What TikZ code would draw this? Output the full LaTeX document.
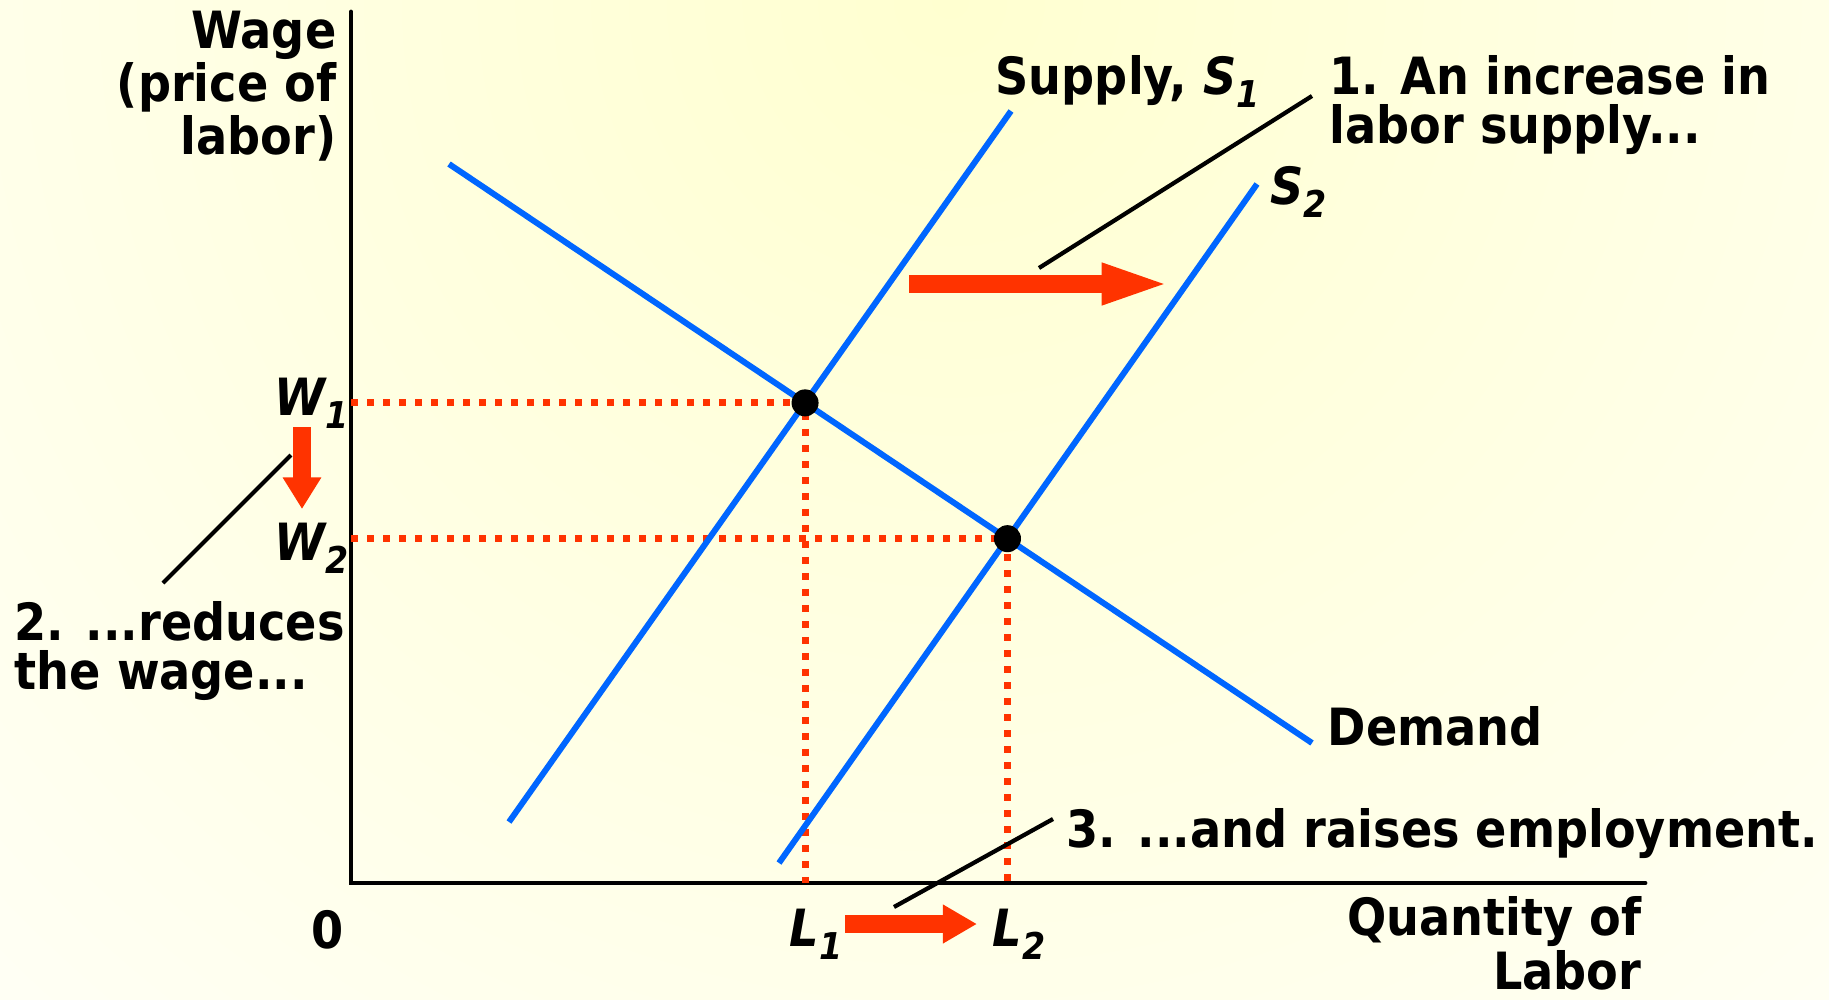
\documentclass[tikz,border=0pt]{standalone}
\usepackage{fontspec}
\newfontfamily\lblfont{DejaVu Sans Condensed Bold}
\newfontfamily\lblitfont{DejaVu Sans Condensed Bold Oblique}
\usetikzlibrary{arrows.meta}
\definecolor{curveblue}{RGB}{0,102,255}
\definecolor{shiftred}{RGB}{255,51,0}
\definecolor{bgyellow}{RGB}{255,255,208}
\definecolor{bgwhite}{RGB}{255,255,245}
\newcommand\subidx[1]{\raisebox{-3.7pt}{\fontsize{10.5}{10}\selectfont #1}}

\begin{document}
\begin{tikzpicture}[x=0.01cm,y=-0.01cm,
  lbl/.style={font=\lblfont\fontsize{14.6}{14}\selectfont, inner sep=0pt},
  sym/.style={font=\lblitfont\fontsize{14.6}{14}\selectfont, inner sep=0pt},
  curve/.style={curveblue, line width=1.7pt},
  guide/.style={shiftred, line width=2pt, dash pattern=on 2pt off 2.55pt},
  callout/.style={black, line width=1.2pt},
  shiftarrow/.style={shiftred, line width=5.1pt, -{Triangle[width=10.4pt,length=#1]}},
  eqdot/.style={circle, fill=black, inner sep=0pt, minimum size=0.27cm}]

% background
\begin{scope}
\clip (0,0) rectangle (1829,1000);
\shade[inner color=bgyellow, outer color=bgwhite] (950,0) circle (1400);
\end{scope}
\useasboundingbox (0,0) rectangle (1829,1000);

% axes
\coordinate (O) at (351,883);
\coordinate (ytop) at (351,12);
\coordinate (xend) at (1645,883);
\draw[line width=1.4pt, line cap=round] (ytop) -- (O) -- (xend);

% demand and the two supply curves
\coordinate (D1) at (449,164);
\coordinate (D2) at (1312,743);
\coordinate (S1a) at (509,822);
\coordinate (S1b) at (1011,111);
\coordinate (S2a) at (779,863);
\coordinate (S2b) at (1257,184);
\coordinate (E1) at (intersection of D1--D2 and S1a--S1b);
\coordinate (E2) at (intersection of D1--D2 and S2a--S2b);

\draw[guide] (O |- E1) -- (E1) -- (E1 |- O);
\draw[guide] (O |- E2) -- (E2) -- (E2 |- O);

\draw[curve] (D1) -- (D2);
\draw[curve] (S1a) -- (S1b);
\draw[curve] (S2a) -- (S2b);

\node[eqdot] (P1) at (E1) {};
\node[eqdot] (P2) at (E2) {};

% labels
\node[lbl, anchor=north east, align=right] (wage) at (337,10) {Wage\\(price of\\labor)};
\node[lbl, anchor=north west] (s1lbl) at (995,55) {Supply, {\lblitfont S\subidx{1}}};
\node[lbl, anchor=north west, align=left] (inc) at (1329,55) {1. An increase in\\labor supply...};
\node[sym, anchor=north west] (s2lbl) at (1270,166) {S\subidx{2}};
\node[lbl, anchor=base west] (dem) at (1327,745) {Demand};
\node[sym, anchor=north east] (w1) at (349,377) {W\subidx{1}};
\node[sym, anchor=north east] (w2) at (349,522) {W\subidx{2}};
\node[lbl, anchor=north west, align=left] (red) at (14,601) {2. ...reduces\\the wage...};
\node[lbl] (zero) at (328,930) {0};
\node[sym, anchor=north west] (l1) at (789,908) {L\subidx{1}};
\node[sym, anchor=north west] (l2) at (992,908) {L\subidx{2}};
\node[lbl, anchor=base west] (emp) at (1066,847) {3. ...and raises employment.};
\node[lbl, anchor=north east, align=right, font=\lblfont\fontsize{14.6}{12.6}\selectfont] (qty) at (1642,896) {Quantity of\\Labor};

% callout lines
\coordinate (c1a) at (1312,96);
\coordinate (c1b) at (1039,268);
\coordinate (c2a) at (291,455);
\coordinate (c2b) at (163,583);
\coordinate (c3a) at (1053,819);
\coordinate (c3b) at (894,907);
\draw[callout] (c1a) -- (c1b);
\draw[callout] (c2a) -- (c2b);
\draw[callout] (c3a) -- (c3b);

% shift arrows
\coordinate (sh1a) at (909,284);
\coordinate (sh1b) at (1172,284);
\coordinate (sh2a) at (302,427);
\coordinate (sh2b) at (302,509);
\coordinate (sh3a) at (845,924);
\coordinate (sh3b) at (977,924);
\draw[shiftarrow=20pt] (sh1a) -- (sh1b);
\draw[shiftarrow=9pt] (sh2a) -- (sh2b);
\draw[shiftarrow=9.7pt] (sh3a) -- (sh3b);

\end{tikzpicture}
\end{document}
